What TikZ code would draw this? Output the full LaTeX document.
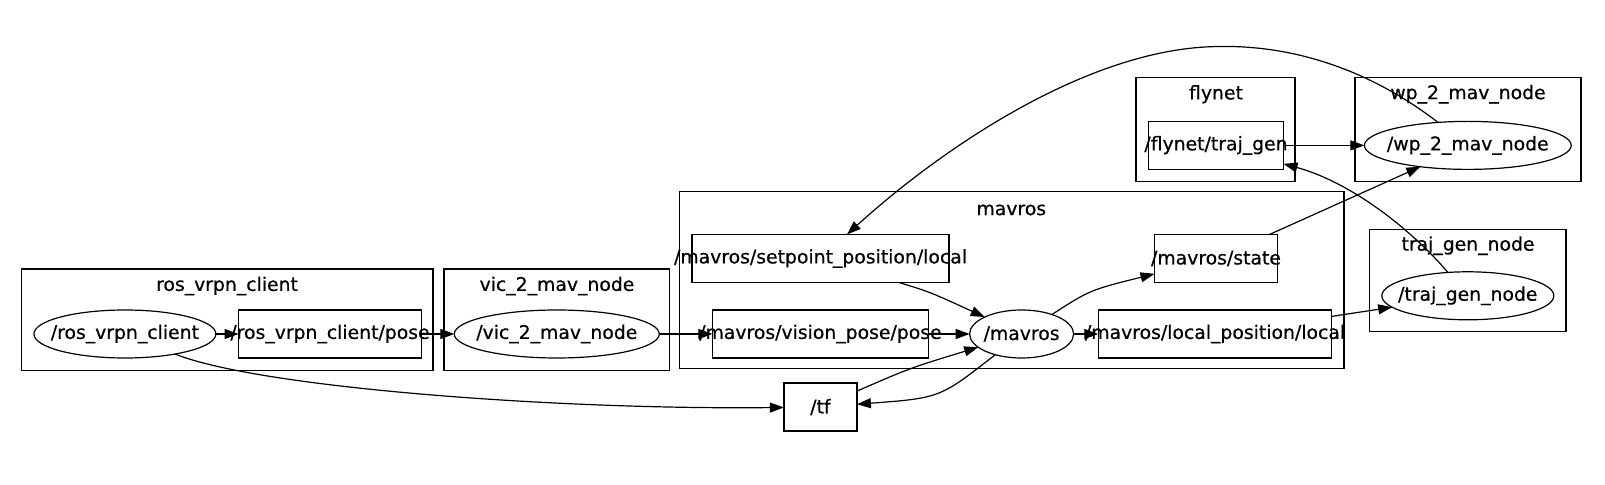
\documentclass[tikz,border=0pt]{standalone}
\usepackage{fontspec}
\setmainfont{DejaVu Sans}[FakeBold=0.6]
\usetikzlibrary{shapes.geometric,arrows.meta}
\begin{document}
\begin{tikzpicture}[x=0.5pt,y=-0.5pt,
  every node/.style={font=\fontsize{9.4}{11}\selectfont, inner sep=0pt, outer sep=0pt},
  cluster/.style={draw, line width=0.6pt, rectangle, minimum height=#1},
  topic/.style={draw, line width=0.6pt, rectangle, minimum height=24pt},
  gnode/.style={draw, line width=0.6pt, ellipse, minimum height=24pt},
  conn/.style={line width=0.6pt, -{Triangle[length=7pt,width=5pt]}},
  ]
\useasboundingbox (0,0) rectangle (1605,485);
% clusters
\node[cluster=50.75pt, minimum width=205.75pt] (c1) at (227.3,319.8) {};
\node (c1l) at (227,286) {ros\_vrpn\_client};
\node[cluster=50.75pt, minimum width=112.75pt] (c2) at (556.8,319.8) {};
\node (c2l) at (557,286) {vic\_2\_mav\_node};
\node[cluster=88.55pt, minimum width=332.15pt] (c3) at (1011.9,280) {};
\node (c3l) at (1011.3,210) {mavros};
\node[cluster=51.7pt, minimum width=79.5pt] (c4) at (1215.5,129.5) {};
\node (c4l) at (1216,94.2) {flynet};
\node[cluster=51.7pt, minimum width=113pt] (c5) at (1468,129.5) {};
\node (c5l) at (1468,94.2) {wp\_2\_mav\_node};
\node[cluster=51.15pt, minimum width=98.2pt] (c6) at (1467.8,280.5) {};
\node (c6l) at (1468,245.7) {traj\_gen\_node};
% nodes
\node[gnode, minimum width=91pt] (rvc) at (124.9,334) {\makebox[0pt]{/ros\_vrpn\_client}};
\node[topic, minimum width=91.5pt] (rvcpose) at (330,334) {\makebox[0pt]{/ros\_vrpn\_client/pose}};
\node[gnode, minimum width=102.5pt] (vic) at (556.8,334) {\makebox[0pt]{/vic\_2\_mav\_node}};
\node[topic, minimum width=128.5pt] (sp) at (820.5,258.5) {\makebox[0pt]{/mavros/setpoint\_position/local}};
\node[topic, minimum width=108pt] (vp) at (820.4,334) {\makebox[0pt]{/mavros/vision\_pose/pose}};
\node[gnode, minimum width=52pt] (mav) at (1021.6,334) {\makebox[0pt]{/mavros}};
\node[topic, minimum width=116.7pt] (lp) at (1215,334) {\makebox[0pt]{/mavros/local\_position/local}};
\node[topic, minimum width=61.5pt] (state) at (1216,258.5) {\makebox[0pt]{/mavros/state}};
\node[topic, minimum width=67.5pt] (traj) at (1216,145.4) {\makebox[0pt]{/flynet/traj\_gen}};
\node[gnode, minimum width=103.4pt] (wp) at (1467.8,145.4) {\makebox[0pt]{/wp\_2\_mav\_node}};
\node[gnode, minimum width=86pt] (tgn) at (1467.8,295.8) {\makebox[0pt]{/traj\_gen\_node}};
\node[topic, minimum width=36.5pt] (tf) at (820.4,407) {\makebox[0pt]{/tf}};
% connectors
\draw[conn] (rvc) -- (rvcpose);
\draw[conn] (rvcpose) -- (vic);
\draw[conn] (vic) -- (vp);
\draw[conn] (vp) -- (mav);
\draw[conn] (mav) -- (lp);
\draw[conn] (sp) .. controls (930,292) .. (mav);
\draw[conn] (mav) .. controls (1090,290) .. (state);
\draw[conn] (mav) .. controls (940,398) .. (tf);
\draw[conn] (tf) .. controls (910,368) .. (mav);
\draw[conn] (rvc) .. controls (260,388) and (560,410) .. (tf);
\draw[conn] (traj) -- (wp);
\draw[conn] (state) -- (wp);
\draw[conn] (lp) -- (tgn);
\draw[conn] (tgn) .. controls (1410,228) and (1350,182) .. (traj);
\draw[conn] (wp) .. controls (1370,70) and (1290,42) .. (1205,47) coordinate (peak)
  .. controls (1080,54.4) and (940,150) .. (sp);
\end{tikzpicture}
\end{document}
